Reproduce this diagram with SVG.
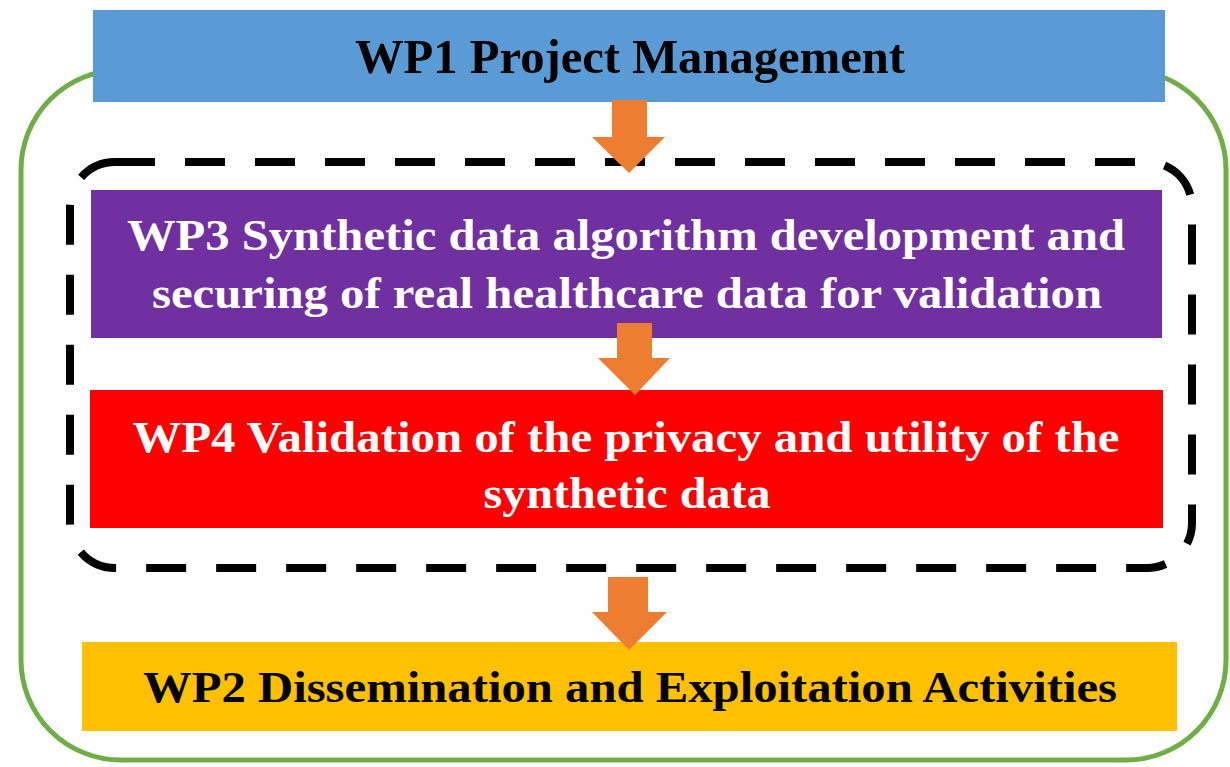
<svg xmlns="http://www.w3.org/2000/svg" width="1230" height="767" viewBox="0 0 1230 767">
<style>
.t{font-family:"Liberation Serif","Times New Roman",serif;font-weight:bold;text-anchor:middle}
.w{fill:#ffffff}
.k{fill:#000000}
.arrow{fill:#ED7D31}
</style>
<rect width="1230" height="767" fill="#ffffff"/>
<g id="frame">
<rect x="21" y="70" width="1205" height="690" rx="100" ry="100" fill="none" stroke="#70AD47" stroke-width="5"/>
</g>
<g id="group-dashed">
<rect x="70" y="162" width="1122" height="406" rx="45" ry="45" fill="none" stroke="#000000" stroke-width="8" stroke-dasharray="40 30"/>
</g>
<g id="wp1">
<rect x="93" y="10" width="1072" height="92" fill="#5B9BD5"/>
<text class="t k" x="630" y="73" font-size="48" textLength="550" lengthAdjust="spacingAndGlyphs">WP1 Project Management</text>
</g>
<g id="wp3">
<rect x="91" y="190" width="1071" height="148" fill="#7030A0"/>
<text class="t w" x="626" y="250" font-size="45" textLength="998" lengthAdjust="spacingAndGlyphs">WP3 Synthetic data algorithm development and</text>
<text class="t w" x="627" y="308" font-size="45" textLength="950" lengthAdjust="spacingAndGlyphs">securing of real healthcare data for validation</text>
</g>
<g id="wp4">
<rect x="90" y="390" width="1073" height="138" fill="#FF0000"/>
<text class="t w" x="626" y="452" font-size="45" textLength="987" lengthAdjust="spacingAndGlyphs">WP4 Validation of the privacy and utility of the</text>
<text class="t w" x="627" y="508" font-size="45" textLength="287" lengthAdjust="spacingAndGlyphs">synthetic data</text>
</g>
<g id="wp2">
<rect x="82" y="642" width="1095" height="89" fill="#FFC000"/>
<text class="t k" x="630" y="702" font-size="45" textLength="974" lengthAdjust="spacingAndGlyphs">WP2 Dissemination and Exploitation Activities</text>
</g>
<g id="connectors">
<polygon class="arrow" points="612,100 647,100 647,137 665,137 629,173 592,137 612,137"/>
<polygon class="arrow" points="617,323 652,323 652,358 670,358 635,395 598,358 617,358"/>
<polygon class="arrow" points="608,577 648,577 648,612 667,612 629,650 592,612 608,612"/>
</g>
</svg>
